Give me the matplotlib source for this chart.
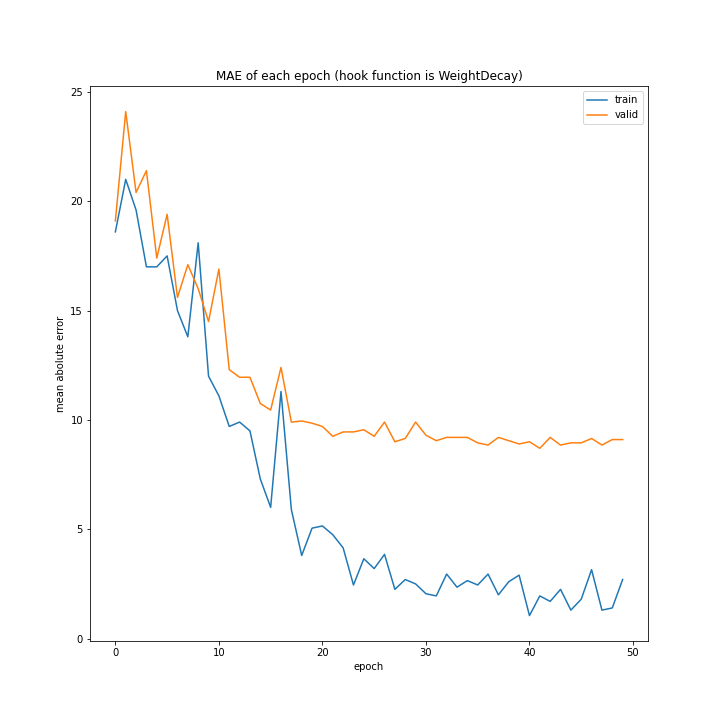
import matplotlib.pyplot as plt

train_mae = [18.6, 21.0, 19.6, 17.0, 17.0, 17.5, 15.0, 13.8, 18.1, 12.0,
             11.1, 9.7, 9.9, 9.5, 7.3, 6.0, 11.3, 5.9, 3.8, 5.05,
             5.15, 4.75, 4.15, 2.45, 3.65, 3.2, 3.85, 2.25, 2.7, 2.5,
             2.05, 1.95, 2.95, 2.35, 2.65, 2.45, 2.95, 2.0, 2.6, 2.9,
             1.05, 1.95, 1.7, 2.25, 1.3, 1.8, 3.15, 1.3, 1.4, 2.7]
valid_mae = [19.1, 24.1, 20.4, 21.4, 17.4, 19.4, 15.6, 17.1, 16.0, 14.5,
             16.9, 12.3, 11.95, 11.95, 10.75, 10.45, 12.4, 9.9, 9.95, 9.85,
             9.7, 9.25, 9.45, 9.45, 9.55, 9.25, 9.9, 9.0, 9.15, 9.9,
             9.3, 9.05, 9.2, 9.2, 9.2, 8.95, 8.85, 9.2, 9.05, 8.9,
             9.0, 8.7, 9.2, 8.85, 8.95, 8.95, 9.15, 8.85, 9.1, 9.1]
epochs = list(range(len(train_mae)))

fig, ax = plt.subplots(figsize=(10, 10), dpi=72)
ax.plot(epochs, train_mae, label="train")
ax.plot(epochs, valid_mae, label="valid")
ax.set_title("MAE of each epoch (hook function is WeightDecay)")
ax.set_xlabel("epoch")
ax.set_ylabel("mean abolute error")
ax.legend()
fig.savefig("out.png")
